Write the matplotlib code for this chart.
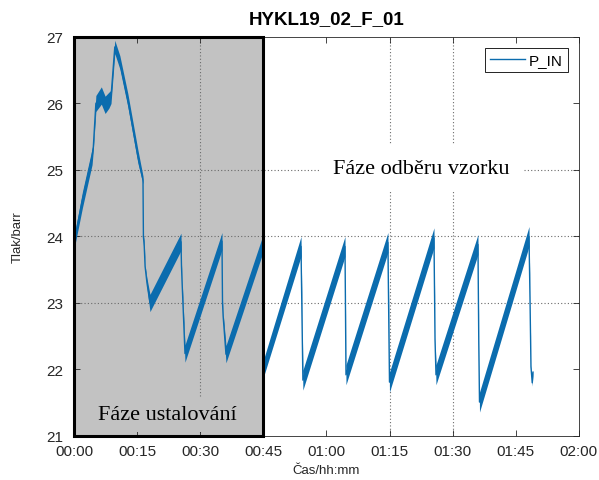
import matplotlib
matplotlib.use("Agg")
from matplotlib import pyplot as plt
from matplotlib.patches import Rectangle
import numpy as np

plt.rcParams["font.family"] = ["Liberation Sans", "DejaVu Sans"]

# cas [min] a tlak P_IN [bar]
time_min = [0.0, 2.0, 4.3, 4.6, 5.2, 6.5, 7.4, 8.3, 8.8, 9.7, 10.9, 12.8, 15.2,
            16.4, 16.5, 16.7, 16.9, 17.35, 18.06,
            25.43, 25.55, 25.7, 26.38,
            35.17, 35.3, 35.45, 36.12,
            44.95, 45.05,
            53.95, 54.4,
            64.4, 64.5, 64.64,
            74.6, 74.98,
            85.55, 85.8, 86.03,
            96.0, 96.2, 96.37,
            108.13, 108.37, 108.6, 108.9, 109.08]
p_in = [23.9, 24.55, 25.2, 25.35, 26.0, 26.12, 25.98, 26.05, 26.1, 26.85, 26.62, 26.05, 25.2,
        24.85, 24.0, 23.85, 23.55, 23.3, 23.0,
        23.92, 23.55, 23.3, 22.24,
        23.93, 23.0, 22.8, 22.23,
        23.9, 22.02,
        23.85, 21.84,
        23.85, 23.1, 21.92,
        23.91, 21.81,
        23.98, 22.45, 21.92,
        23.88, 22.4, 21.51,
        24.0, 23.08, 22.04, 21.8, 21.96]
# rozptyl signalu (polovina sirky pasu) [bar]
noise_half = [0.1, 0.12, 0.12, 0.05, 0.12, 0.13, 0.13, 0.12, 0.1, 0.1, 0.1, 0.1, 0.1,
              0.06, 0.02, 0.08, 0.02, 0.07, 0.13,
              0.13, 0.03, 0.05, 0.13,
              0.13, 0.03, 0.05, 0.13,
              0.13, 0.13,
              0.15, 0.15,
              0.15, 0.03, 0.15,
              0.15, 0.15,
              0.15, 0.03, 0.15,
              0.15, 0.03, 0.15,
              0.15, 0.03, 0.03, 0.05, 0.03]

settle_end = 45
x_ticks = [0, 15, 30, 45, 60, 75, 90, 105, 120]
x_labels = ["00:00", "00:15", "00:30", "00:45", "01:00", "01:15", "01:30", "01:45", "02:00"]
y_ticks = [21, 22, 23, 24, 25, 26, 27]
grid_x = [30, 75, 90]
grid_y = [23, 24, 25]

blue = "#0b6cae"
gray = "#c2c2c2"

t = np.array(time_min)
p = np.array(p_in)
w = np.array(noise_half)

fig = plt.figure(figsize=(5.99, 4.81), dpi=100)
ax = fig.add_axes([0.1235, 0.0915, 0.843, 0.8295])
ax.set_xlim(0, 120)
ax.set_ylim(21, 27)

ax.add_patch(Rectangle((0, 21), settle_end, 6, facecolor=gray, edgecolor="none", zorder=0))

for gx in grid_x:
    ax.axvline(gx, color="#6b6b6b", lw=0.8, ls=(0, (1, 2)), zorder=1)
for gy in grid_y:
    ax.axhline(gy, color="#6b6b6b", lw=0.8, ls=(0, (1, 2)), zorder=1)

ax.fill_between(t, p - w, p + w, color=blue, lw=0, zorder=2)
ax.plot(t, p, color=blue, lw=1.0, zorder=3, label="P_IN")

ax.add_patch(Rectangle((0, 21), settle_end, 6, fill=False, edgecolor="black",
                       lw=2.2, zorder=4, clip_on=False))

ax.text(22.3, 21.32, "Fáze ustalování", family="Liberation Serif", fontsize=16,
        ha="center", va="center", zorder=5,
        bbox=dict(boxstyle="square,pad=0.35", facecolor=gray, edgecolor="none"))
ax.text(82.5, 25.03, "Fáze odběru vzorku", family="Liberation Serif", fontsize=16,
        ha="center", va="center", zorder=5,
        bbox=dict(boxstyle="square,pad=0.6", facecolor="white", edgecolor="none"))

ax.set_xticks(x_ticks)
ax.set_xticklabels(x_labels)
ax.set_yticks(y_ticks)
ax.tick_params(direction="in", length=4, width=0.6, top=True, right=True,
               labelsize=11, labelcolor="#262626", color="#262626")
ax.tick_params(axis="x", pad=6)
ax.tick_params(axis="y", pad=8)
for s in ax.spines.values():
    s.set_linewidth(0.6)
    s.set_color("#262626")

ax.set_title("HYKL19_02_F_01", fontsize=13.5, fontweight="bold", pad=10)
ax.set_xlabel("Čas/hh:mm", fontsize=9.5, labelpad=4, color="#262626")
ax.set_ylabel("Tlak/barr", fontsize=9.5, labelpad=16, color="#262626")

leg = ax.legend(loc="upper right", fontsize=11, fancybox=False, framealpha=1,
                edgecolor="black", handlelength=2.3, handletextpad=0.25,
                borderpad=0.35, borderaxespad=0.7)
leg.get_frame().set_linewidth(0.6)
leg.set_zorder(6)

fig.savefig("out.png", dpi=100)
